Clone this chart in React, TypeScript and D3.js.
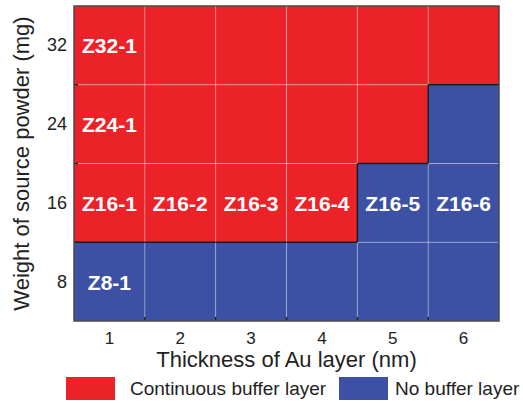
import * as d3 from 'd3';

// Data
const thickness = [1, 2, 3, 4, 5, 6]; // nm
const weights = [8, 16, 24, 32]; // mg
// 1 = continuous buffer layer, 0 = no buffer layer (rows follow `weights`)
const bufferState = [
  [0, 0, 0, 0, 0, 0],
  [1, 1, 1, 1, 0, 0],
  [1, 1, 1, 1, 1, 0],
  [1, 1, 1, 1, 1, 1],
];
const sampleWeights = [32, 24, 16, 16, 16, 16, 16, 16, 8];
const sampleThickness = [1, 1, 1, 2, 3, 4, 5, 6, 1];
const sampleNames = ['Z32-1', 'Z24-1', 'Z16-1', 'Z16-2', 'Z16-3', 'Z16-4', 'Z16-5', 'Z16-6', 'Z8-1'];
const legendLabels = ['Continuous buffer layer', 'No buffer layer'];

const W = 523;
const H = 403;
const red = '#ec2229';
const blue = '#3c51a3';
const font = '"Liberation Sans", Arial, sans-serif';

export default function App() {
  const x = d3.scaleBand<number>().domain(thickness).range([74, 499]);
  const y = d3.scaleBand<number>().domain([...weights].reverse()).range([6, 321]);
  const bw = x.bandwidth();
  const bh = y.bandwidth();

  const cells = weights.flatMap((w, i) =>
    thickness.map((t, j) => ({ w, t, v: bufferState[i][j] }))
  );

  // boundary segments between differing cells
  const edges: { x1: number; y1: number; x2: number; y2: number }[] = [];
  weights.forEach((w, i) => {
    thickness.forEach((t, j) => {
      if (j + 1 < thickness.length && bufferState[i][j] !== bufferState[i][j + 1]) {
        const xx = x(t)! + bw;
        edges.push({ x1: xx, y1: y(w)!, x2: xx, y2: y(w)! + bh });
      }
      if (i + 1 < weights.length && bufferState[i][j] !== bufferState[i + 1][j]) {
        const yy = y(weights[i + 1])! + bh;
        edges.push({ x1: x(t)!, y1: yy, x2: x(t)! + bw, y2: yy });
      }
    });
  });

  const [x0, x1] = x.range();
  const [y0, y1] = y.range();

  return (
    <svg width={W} height={H} style={{ position: 'absolute', left: 0, top: 0, background: '#fff' }} fontFamily={font}>
      {cells.map((c) => (
        <rect key={`${c.w}-${c.t}`} x={x(c.t)} y={y(c.w)} width={bw} height={bh} fill={c.v ? red : blue} />
      ))}
      {/* white grid */}
      {thickness.slice(1).map((t) => (
        <line key={`gx${t}`} x1={x(t)} x2={x(t)} y1={y0} y2={y1} stroke="#fff" strokeOpacity={0.35} strokeWidth={1} />
      ))}
      {weights.slice(1).map((w) => (
        <line key={`gy${w}`} x1={x0} x2={x1} y1={y(w)! + bh} y2={y(w)! + bh} stroke="#fff" strokeOpacity={0.35} strokeWidth={1} />
      ))}
      {edges.map((e, i) => (
        <line key={`e${i}`} {...e} stroke="#1a1a1a" strokeWidth={1.5} />
      ))}
      {/* inner ticks */}
      {thickness.slice(1).map((t) => (
        <line key={`tx${t}`} x1={x(t)} x2={x(t)} y1={y1} y2={y1 - 4} stroke="#222" strokeWidth={1.5} />
      ))}
      {weights.slice(1).map((w) => (
        <line key={`ty${w}`} x1={x0} x2={x0 + 4} y1={y(w)! + bh} y2={y(w)! + bh} stroke="#222" strokeWidth={1.5} />
      ))}
      <rect x={x0} y={y0} width={x1 - x0} height={y1 - y0} fill="none" stroke="#4a4a4a" strokeWidth={1.5} />

      {/* sample labels */}
      {sampleNames.map((n, i) => (
        <text
          key={n}
          x={x(sampleThickness[i])! + bw / 2}
          y={y(sampleWeights[i])! + bh / 2 + 8}
          textAnchor="middle"
          fill="#fff"
          fontWeight="bold"
          fontSize={21}
        >
          {n}
        </text>
      ))}

      {/* tick labels */}
      {thickness.map((t) => (
        <text key={`lx${t}`} x={x(t)! + bw / 2} y={344} textAnchor="middle" fontSize={17} fill="#222">
          {t}
        </text>
      ))}
      {weights.map((w) => (
        <text key={`ly${w}`} x={67} y={y(w)! + bh / 2 + 6} textAnchor="end" fontSize={18} fill="#222">
          {w}
        </text>
      ))}

      {/* axis titles */}
      <text x={(x0 + x1) / 2} y={367} textAnchor="middle" fontSize={22} fill="#222">
        Thickness of Au layer (nm)
      </text>
      <text transform={`translate(29, ${(y0 + y1) / 2}) rotate(-90)`} textAnchor="middle" fontSize={22} fill="#222">
        Weight of source powder (mg)
      </text>

      {/* legend */}
      <rect x={66} y={377} width={49} height={23} fill={red} />
      <text x={130} y={395} fontSize={19} fill="#222">{legendLabels[0]}</text>
      <rect x={339} y={377} width={49} height={23} fill={blue} />
      <text x={395} y={395} fontSize={19} fill="#222">{legendLabels[1]}</text>
    </svg>
  );
}
